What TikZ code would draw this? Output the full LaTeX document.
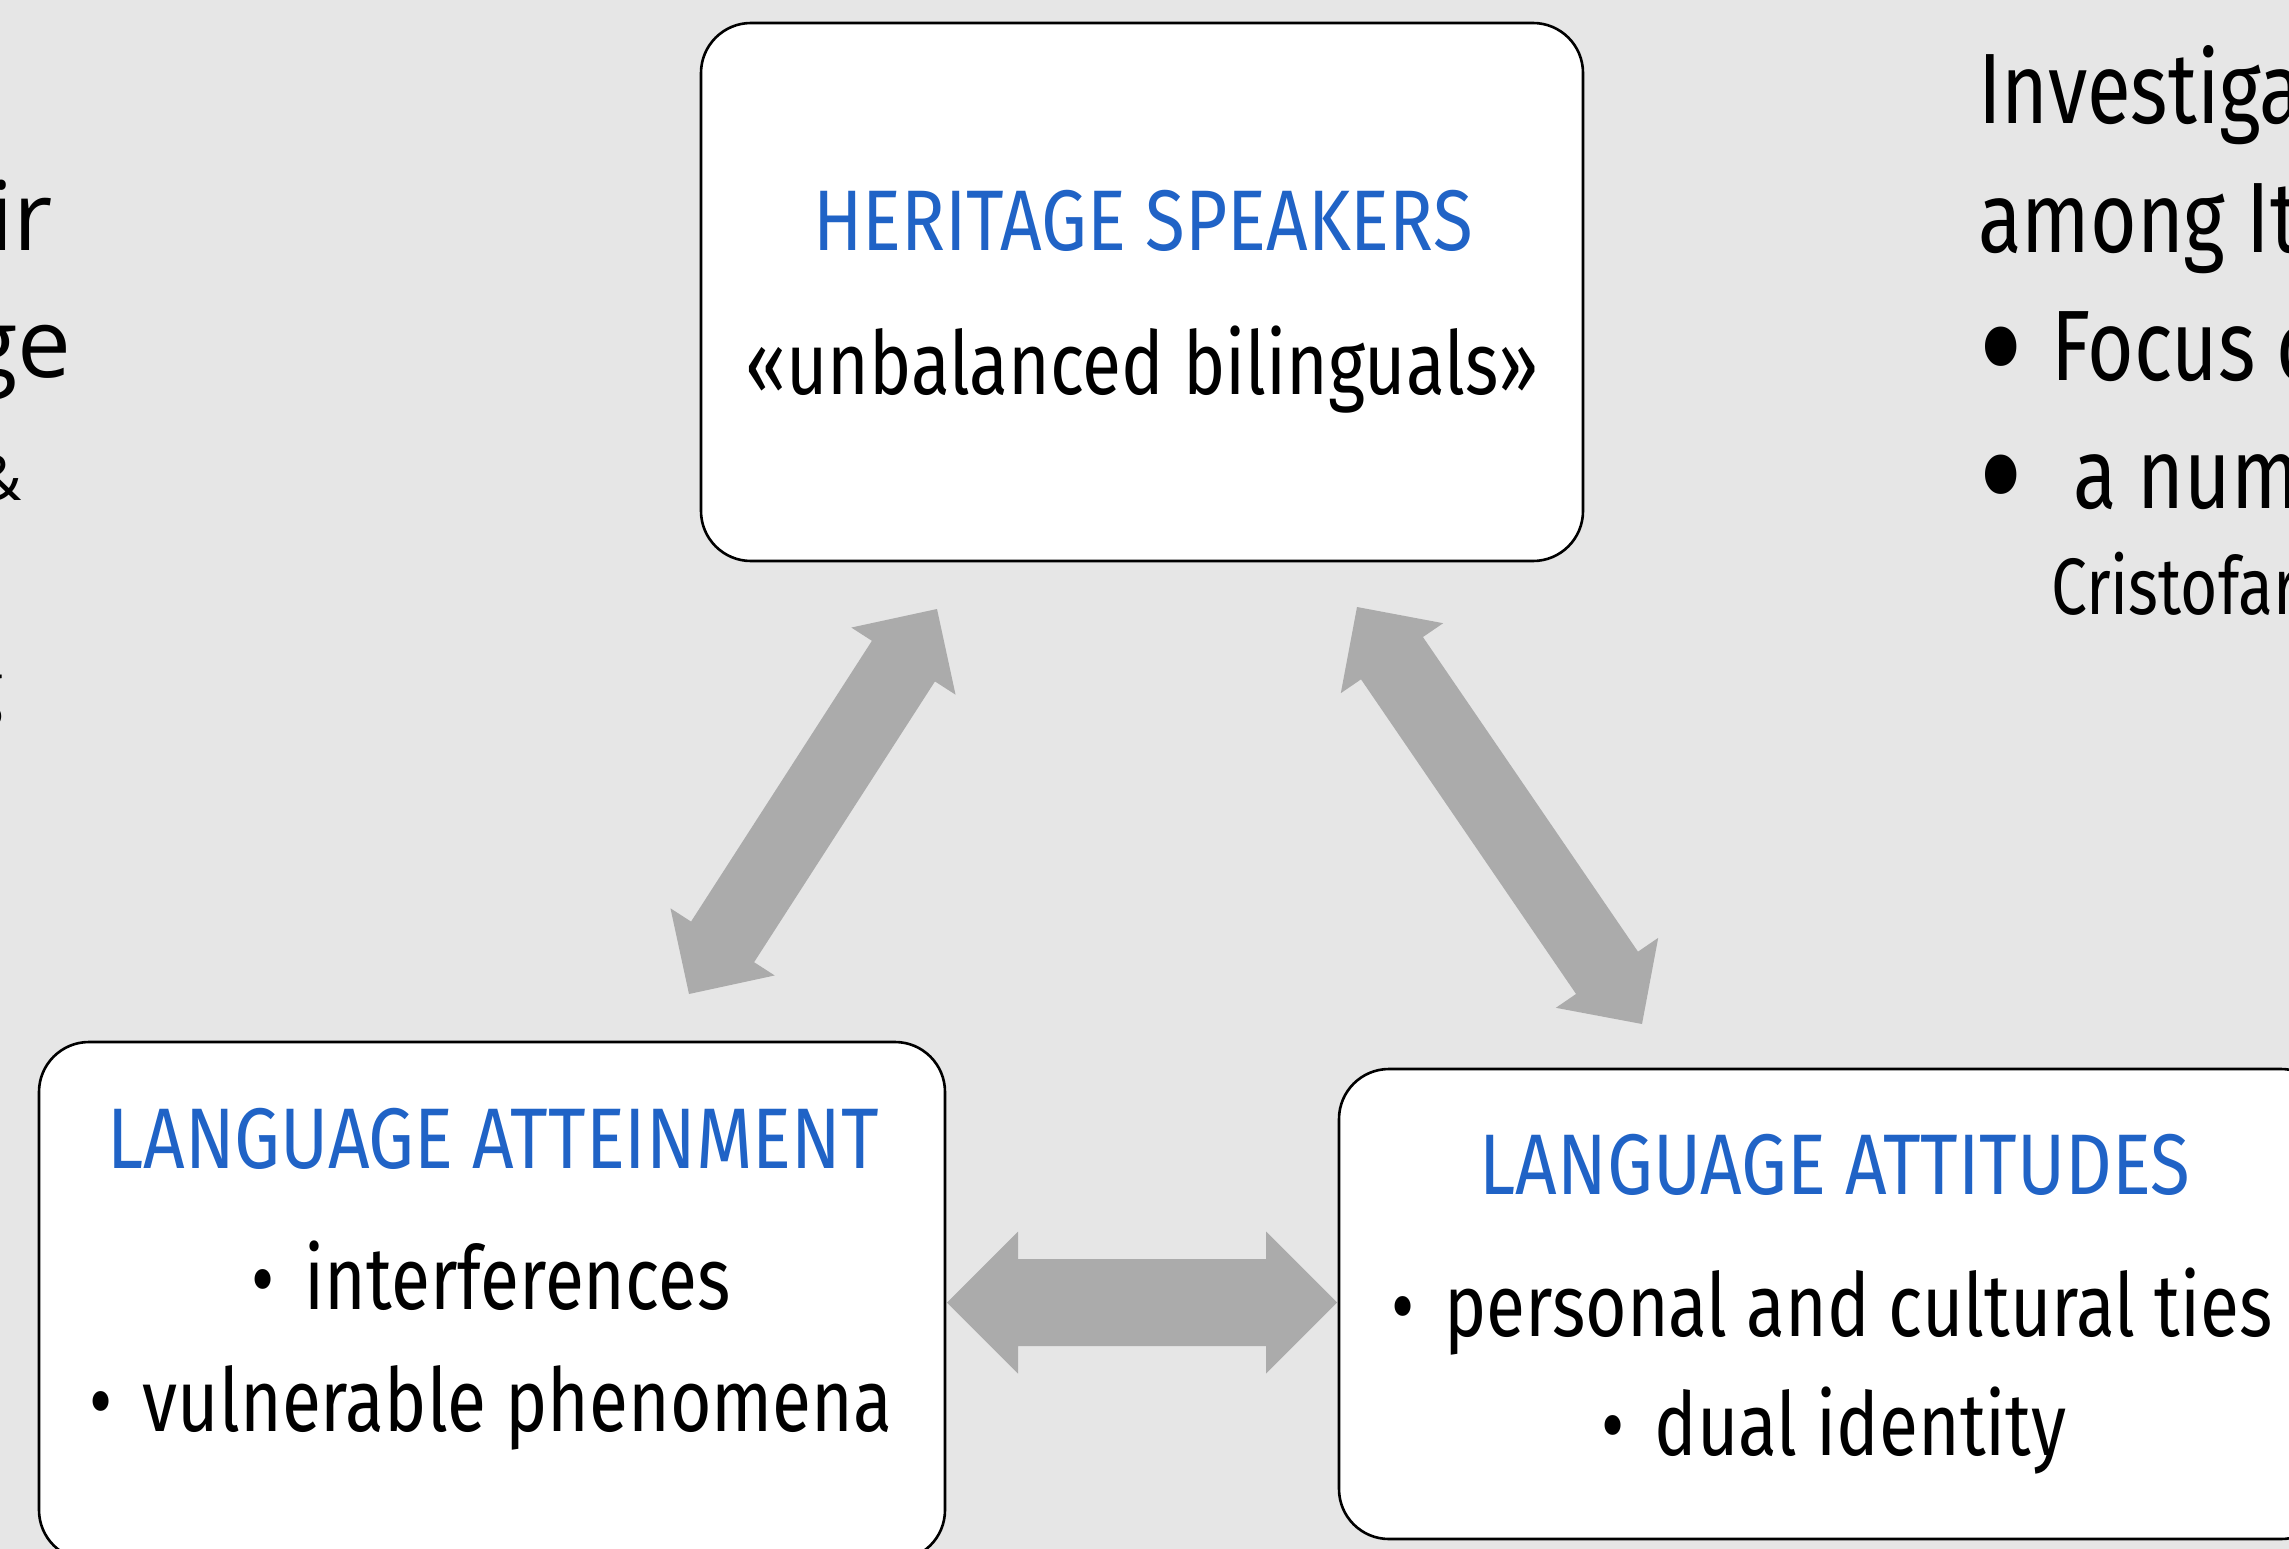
\documentclass[tikz,border=0pt]{standalone}
\usepackage{fontspec}
\setmainfont{Fira Sans}[FakeStretch=0.81]
\newfontfamily\headfont{Fira Sans}[FakeStretch=0.845]
\newfontfamily\sidefont{Fira Sans}[FakeStretch=0.8]
\newfontfamily\lsans{Open Sans}
\usetikzlibrary{calc}
\definecolor{bg}{HTML}{E6E6E6}
\definecolor{arrowgray}{HTML}{ABABAB}
\definecolor{headblue}{HTML}{2063C6}
% #1 tip A, #2 tip B, #3 half shaft width, #4 half head width, #5 head length
\newcommand\fatarrow[5]{%
  \fill[arrowgray]
    (#1)
    -- ($(#1)!#5!(#2)!#4!90:(#2)$)
    -- ($(#1)!#5!(#2)!#3!90:(#2)$)
    -- ($(#2)!#5!(#1)!#3!270:(#1)$)
    -- ($(#2)!#5!(#1)!#4!270:(#1)$)
    -- (#2)
    -- ($(#2)!#5!(#1)!#4!90:(#1)$)
    -- ($(#2)!#5!(#1)!#3!90:(#1)$)
    -- ($(#1)!#5!(#2)!#3!270:(#2)$)
    -- ($(#1)!#5!(#2)!#4!270:(#2)$)
    -- cycle;}
\newcommand\boxbullet{•\hspace{30pt}}
\newcommand\bigbullet{\raisebox{-26pt}{\scalebox{1.75}{•}}}
\begin{document}
\begin{tikzpicture}[x=1pt,y=-1pt,
  box/.style={draw=black, line width=2.6pt, fill=white, rounded corners=50pt, inner sep=0pt, outer sep=0pt},
  headtxt/.style={text=headblue, font=\headfont\fontsize{86}{100}\selectfont, anchor=base, inner sep=0pt},
  bodytxt/.style={text=black, font=\fontsize{88}{100}\selectfont, anchor=base, inner sep=0pt},
  sidetxt/.style={text=black, font=\sidefont\fontsize{100}{120}\selectfont, anchor=base west, inner sep=0pt},
  citetxt/.style={text=black, font=\sidefont\fontsize{80}{96}\selectfont, anchor=base west, inner sep=0pt},
  lefttxt/.style={text=black, font=\lsans\fontsize{96}{110}\selectfont, anchor=base east, inner sep=0pt}]
\useasboundingbox (0,0) rectangle (2289,1549);
\clip (0,0) rectangle (2289,1549);
\fill[bg] (0,0) rectangle (2289,1549);

% cut-off text at the left
\node[lefttxt] (l1) at (53,251) {ir};
\node[lefttxt] (l2) at (72,377) {ge};
\node[lefttxt, font=\lsans\fontsize{62}{70}\selectfont] (l3) at (22,500) {\&};
\node[lefttxt, font=\lsans\fontsize{70}{80}\selectfont] (l4) at (4,712) {g};

% cut-off text at the right
\node[sidetxt] (r1) at (1978,124) {Investiga};
\node[sidetxt] (r2) at (1978,252) {among It};
\node[sidetxt] (r3) at (1978,380) {\makebox[73pt][l]{\bigbullet}Focus o};
\node[sidetxt] (r4) at (1978,508) {\makebox[95pt][l]{\bigbullet}a num};
\node[citetxt] (r5) at (2051,614) {Cristofar};

% boxes
\node[box, minimum width=882pt, minimum height=538pt] (hs) at (1142,292) {};
\node[box, minimum width=906pt, minimum height=518pt] (la) at (492,1301) {};
\node[box, minimum width=992pt, minimum height=470pt] (lt) at (1835,1304) {};

\node[headtxt] (hst) at (1143,251) {HERITAGE SPEAKERS};
\node[bodytxt] (hsb) at (1142,394) {«unbalanced bilinguals»};

\node[headtxt] (lat) at (493,1168) {LANGUAGE ATTEINMENT};
\node[bodytxt] (la1) at (491,1309) {\boxbullet interferences};
\node[bodytxt] (la2) at (491,1431) {\boxbullet vulnerable phenomena};

\node[headtxt] (ltt) at (1835,1194) {LANGUAGE ATTITUDES};
\node[bodytxt] (lt1) at (1832,1336) {\boxbullet personal and cultural ties};
\node[bodytxt] (lt2) at (1834,1455) {\boxbullet dual identity};

% double arrows
\coordinate (a1s) at (937,609);
\coordinate (a1e) at (689,994);
\coordinate (a2s) at (1357,607);
\coordinate (a2e) at (1642,1024);
\coordinate (a3s) at (947,1302.5);
\coordinate (a3e) at (1337,1302.5);
\fatarrow{a1s}{a1e}{37.5pt}{62pt}{62pt}
\fatarrow{a2s}{a2e}{37.5pt}{62pt}{62pt}
\fatarrow{a3s}{a3e}{43.5pt}{71pt}{71pt}
\end{tikzpicture}
\end{document}
